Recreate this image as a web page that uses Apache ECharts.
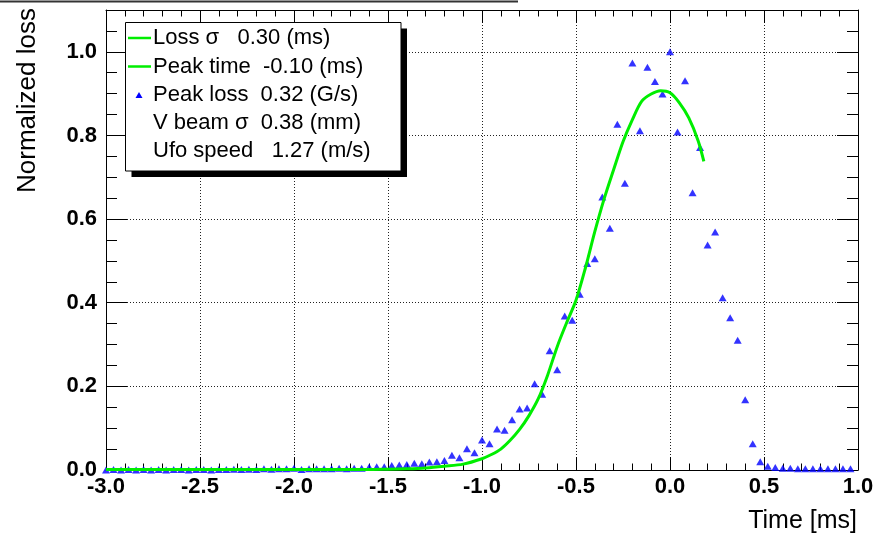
<!DOCTYPE html>
<html><head><meta charset="utf-8">
<script src="https://cdn.jsdelivr.net/npm/echarts@6/dist/echarts.min.js"></script>
<style>html,body{margin:0;padding:0;background:#fff}#c{width:888px;height:537px}</style>
</head><body><div id="c"></div>
<script>
// ---- data ----
const timeMs = [
 -3.00,-2.96,-2.92,-2.88,-2.84,-2.80,-2.76,-2.72,-2.68,-2.64,
 -2.60,-2.56,-2.52,-2.48,-2.44,-2.40,-2.36,-2.32,-2.28,-2.24,
 -2.20,-2.16,-2.12,-2.08,-2.04,-2.00,-1.96,-1.92,-1.88,-1.84,
 -1.80,-1.76,-1.72,-1.68,-1.64,-1.60,-1.56,-1.52,-1.48,-1.44,
 -1.40,-1.36,-1.32,-1.28,-1.24,-1.20,-1.16,-1.12,-1.08,-1.04,
 -1.00,-0.96,-0.92,-0.88,-0.84,-0.80,-0.76,-0.72,-0.68,-0.64,
 -0.60,-0.56,-0.52,-0.48,-0.44,-0.40,-0.36,-0.32,-0.28,-0.24,
 -0.20,-0.16,-0.12,-0.08,-0.04,0.00,0.04,0.08,0.12,0.16,
 0.20,0.24,0.28,0.32,0.36,0.40,0.44,0.48,0.52,0.56,
 0.60,0.64,0.68,0.72,0.76,0.80,0.84,0.88,0.92,0.96
];
const peakLoss = [
 0.000,0.001,0.000,0.001,0.000,0.001,0.000,0.001,0.000,0.001,
 0.001,0.000,0.001,0.001,0.000,0.001,0.001,0.002,0.001,0.002,
 0.001,0.003,0.002,0.003,0.003,0.004,0.001,0.003,0.003,0.003,
 0.003,0.004,0.003,0.004,0.004,0.007,0.008,0.008,0.011,0.012,
 0.013,0.016,0.015,0.019,0.020,0.023,0.035,0.029,0.051,0.041,
 0.072,0.063,0.098,0.095,0.120,0.146,0.148,0.206,0.181,0.285,
 0.240,0.368,0.358,0.420,0.494,0.505,0.653,0.578,0.827,0.686,
 0.973,0.811,0.963,0.929,0.899,1.000,0.808,0.931,0.663,0.771,
 0.538,0.569,0.412,0.364,0.310,0.168,0.063,0.020,0.009,0.006,
 0.004,0.004,0.003,0.003,0.003,0.003,0.003,0.003,0.003,0.003
];
const fitTime = [-3.0,-2.5,-2.0,-1.7,-1.5,-1.4,-1.3,-1.2,-1.1,-1.0,-0.95,-0.9,-0.85,-0.8,-0.75,-0.7,-0.65,-0.6,-0.55,-0.5,-0.45,-0.4,-0.35,-0.3,-0.25,-0.2,-0.15,-0.1,-0.05,0.0,0.05,0.1,0.15,0.18];
const fitLoss = [0.001,0.001,0.001,0.001,0.002,0.003,0.005,0.009,0.014,0.027,0.037,0.050,0.071,0.097,0.130,0.171,0.228,0.295,0.352,0.406,0.483,0.570,0.649,0.718,0.785,0.838,0.882,0.899,0.907,0.902,0.878,0.842,0.787,0.738];
const legendLabels = ['Loss \u03c3   0.30 (ms)','Peak time  -0.10 (ms)','Peak loss  0.32 (G/s)','V beam \u03c3  0.38 (mm)','Ufo speed   1.27 (m/s)'];
const xTitle = 'Time [ms]';
const yTitle = 'Normalized loss';

// ---- chart ----
const F = '"Liberation Sans", Arial, Helvetica, sans-serif';
const chart = echarts.init(document.getElementById('c'), null, {renderer:'canvas'});
const blk = {color:'#000', width:1};
const fmt = v => (Math.abs(v - Math.round(v*5)/5) < 1e-6 ? v.toFixed(1) : '');
const lx = 125.5, ly = 22.5, lw = 275.5, lh = 148.5;
const rowY = [38, 66.5, 95, 123, 151];
const graphics = [
  {type:'line', shape:{x1:0,y1:1.5,x2:518,y2:1.5}, style:{stroke:'#333', lineWidth:2}, z:100},
  {type:'rect', shape:{x:lx+6,y:ly+6,width:lw,height:lh}, style:{fill:'#000'}, z:100},
  {type:'rect', shape:{x:lx,y:ly,width:lw,height:lh}, style:{fill:'#fff', stroke:'#000', lineWidth:1}, z:101},
  {type:'line', shape:{x1:128,y1:rowY[0],x2:151,y2:rowY[0]}, style:{stroke:'#00ee00', lineWidth:2.5}, z:102},
  {type:'line', shape:{x1:128,y1:rowY[1],x2:151,y2:rowY[1]}, style:{stroke:'#00ee00', lineWidth:2.5}, z:102},
  {type:'polygon', shape:{points:[[135.5,rowY[2]+3],[142.5,rowY[2]+3],[139,rowY[2]-3]]}, style:{fill:'#0000ff'}, z:102},
  {type:'text', x:28, y:8, rotation:Math.PI/2, z:102,
   style:{text:yTitle, font:'26px '+F, fill:'#000', align:'right', verticalAlign:'middle', textAlign:'right', textVerticalAlign:'middle'}},
  {type:'text', x:857, y:521, z:102,
   style:{text:xTitle, font:'25px '+F, fill:'#000', align:'right', verticalAlign:'middle', textAlign:'right', textVerticalAlign:'middle'}}
];
legendLabels.forEach((t,i)=>{
  graphics.push({type:'text', x:153, y:rowY[i], z:103,
    style:{text:t, font:'22px '+F, fill:'#000', align:'left', verticalAlign:'middle', textAlign:'left', textVerticalAlign:'middle'}});
});

const yCommon = {type:'value', min:0, max:1.1, splitLine:{show:false}, axisLabel:{show:false}};
chart.setOption({
  animation:false,
  backgroundColor:'#fff',
  grid:{left:106, right:30, top:10, bottom:67, show:false},
  xAxis:[
    {type:'value', min:-3, max:1, interval:0.5, position:'bottom',
     axisLine:{show:true, onZero:false, lineStyle:blk},
     axisTick:{show:true, inside:true, length:13, lineStyle:blk},
     minorTick:{show:true, splitNumber:5, length:6.5, lineStyle:blk},
     splitLine:{show:true, lineStyle:{color:'#222', width:1, type:[1,2]}},
     axisLabel:{show:true, margin:6, color:'#000', fontFamily:F, fontWeight:'bold', fontSize:22, formatter:v=>v.toFixed(1)}},
    {type:'value', min:-3, max:1, interval:0.5, position:'top',
     axisLine:{show:true, onZero:false, lineStyle:blk},
     axisTick:{show:true, inside:true, length:13, lineStyle:blk},
     minorTick:{show:true, splitNumber:5, length:6.5, lineStyle:blk},
     splitLine:{show:false}, axisLabel:{show:false}}
  ],
  yAxis:[
    Object.assign({}, yCommon, {position:'left', interval:0.2,
     axisLine:{show:true, onZero:false, lineStyle:blk},
     axisTick:{show:true, inside:true, length:21, lineStyle:blk},
     splitLine:{show:true, lineStyle:{color:'#222', width:1, type:[1,2]}},
     axisLabel:{show:true, margin:9, showMaxLabel:false, color:'#000', fontFamily:F, fontWeight:'bold', fontSize:22, formatter:fmt}}),
    Object.assign({}, yCommon, {position:'left', interval:0.05,
     axisLine:{show:false, onZero:false}, axisTick:{show:true, inside:true, length:11, lineStyle:blk}}),
    Object.assign({}, yCommon, {position:'right', interval:0.2,
     axisLine:{show:true, onZero:false, lineStyle:blk},
     axisTick:{show:true, inside:true, length:21, lineStyle:blk}}),
    Object.assign({}, yCommon, {position:'right', interval:0.05,
     axisLine:{show:false, onZero:false}, axisTick:{show:true, inside:true, length:11, lineStyle:blk}})
  ],
  series:[
    {type:'scatter', xAxisIndex:0, yAxisIndex:0, symbol:'triangle', symbolSize:[8,7],
     itemStyle:{color:'#0000ff'}, clip:false, z:3,
     data: timeMs.map((t,i)=>[t, peakLoss[i]])},
    {type:'line', xAxisIndex:0, yAxisIndex:0, showSymbol:false, smooth:0.3, z:4,
     lineStyle:{color:'#00ee00', width:3}, clip:false,
     data: fitTime.map((t,i)=>[t, fitLoss[i]])}
  ],
  graphic: graphics
});
</script></body></html>
